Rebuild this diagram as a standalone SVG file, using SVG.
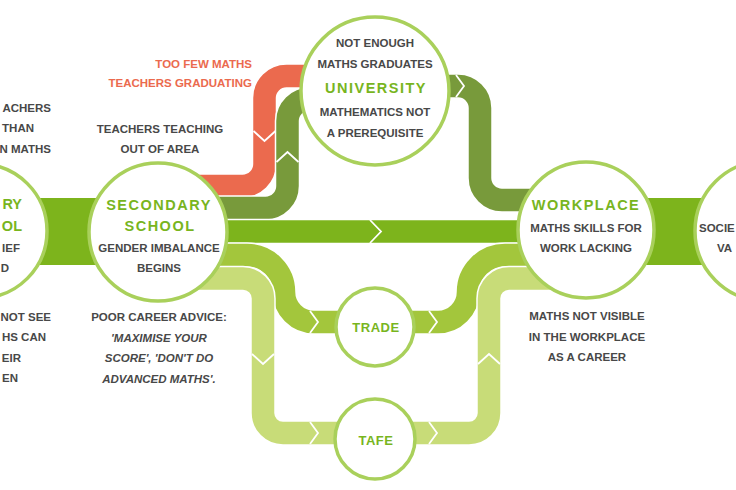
<svg xmlns="http://www.w3.org/2000/svg" xmlns:xlink="http://www.w3.org/1999/xlink" width="736" height="490" viewBox="0 0 736 490">
<style>
.w{fill:none;stroke:#fff;stroke-width:25.5}
.s{fill:none;stroke-width:22.5}
.red{stroke:#eb6a4e}
.olive{stroke:#789a3b}
.main{stroke:#7db41c}
.med{stroke:#a3c63c}
.light{stroke:#c8dc78}
.chev{fill:none;stroke:#fff;stroke-width:1.8;stroke-linejoin:miter}
.node{fill:#fff;stroke:#a9d05b;stroke-width:3.5}
.t{font-family:"Liberation Sans",Arial,sans-serif;font-weight:bold;font-size:11.5px;fill:#484848;text-anchor:middle}
.i{font-style:italic}
.ttl{font-family:"Liberation Sans",Arial,sans-serif;font-weight:bold;font-size:14.5px;fill:#78b51e;text-anchor:middle;letter-spacing:1.5px}
.sm{font-size:13px;letter-spacing:0.5px}
.rt{fill:#eb6a4e}
.band{fill:#7db41c}
.e{text-anchor:end}
.st{text-anchor:start}
</style>
<defs>
<path id="p-red" d="M190 186 H242.5 A22 22 0 0 0 264.5 164 V98 A22 22 0 0 1 286.5 76 H312"/>
<path id="p-olive1" d="M190 208 H265.5 A22 22 0 0 0 287.5 186 V121 A22 22 0 0 1 309.5 99 H322"/>
<path id="p-olive2" d="M438 86 H458 A22 22 0 0 1 480 108 V178 A22 22 0 0 0 502 200 H560"/>
<path id="p-main" d="M190 231.5 H560"/>
<path id="p-med1" d="M190 255 H247 A37 37 0 0 1 284 292 A30 30 0 0 0 314 322 H348"/>
<path id="p-med2" d="M404 322 H438 A30 30 0 0 0 468 292 A37 37 0 0 1 505 255 H560"/>
<path id="p-light1" d="M190 278.5 H243 A20 20 0 0 1 263 298.5 V413 A20 20 0 0 0 283 433 H348"/>
<path id="p-light2" d="M404 433 H469 A20 20 0 0 0 489 413 V298.5 A20 20 0 0 1 509 278.5 H560"/>
</defs>

<g id="bands">
<rect class="band" x="-10" y="198" width="110" height="67"/>
<rect class="band" x="640" y="198" width="70" height="67"/>
</g>

<g id="connectors">
<use xlink:href="#p-red" class="w"/><use xlink:href="#p-red" class="s red"/>
<use xlink:href="#p-olive1" class="w"/><use xlink:href="#p-olive1" class="s olive"/>
<use xlink:href="#p-olive2" class="w"/><use xlink:href="#p-olive2" class="s olive"/>
<use xlink:href="#p-main" class="w"/><use xlink:href="#p-main" class="s main"/>
<use xlink:href="#p-med1" class="w"/><use xlink:href="#p-med1" class="s med"/>
<use xlink:href="#p-med2" class="w"/><use xlink:href="#p-med2" class="s med"/>
<use xlink:href="#p-light1" class="w"/><use xlink:href="#p-light1" class="s light"/>
<use xlink:href="#p-light2" class="w"/><use xlink:href="#p-light2" class="s light"/>
<polyline class="chev" points="253.5,131 264.5,141 275.5,131"/>
<polyline class="chev" points="276.5,162 287.5,152 298.5,162"/>
<polyline class="chev" points="456,75 464,86 456,97"/>
<polyline class="chev" points="370,220 381,231.5 370,243"/>
<polyline class="chev" points="310,311 318,322 310,333"/>
<polyline class="chev" points="429,311 437,322 429,333"/>
<polyline class="chev" points="310,422 318,433 310,444"/>
<polyline class="chev" points="429,422 437,433 429,444"/>
<polyline class="chev" points="252,354 263,364 274,354"/>
<polyline class="chev" points="478,364 489,354 500,364"/>
</g>

<g id="node-primary">
<circle class="node" cx="-20" cy="231" r="67"/>
<text class="ttl e" x="22" y="209" style="letter-spacing:0">RY</text>
<text class="ttl e" x="22" y="231" style="letter-spacing:0">OL</text>
<text class="t e" x="20" y="252">IEF</text>
<text class="t e" x="9" y="272">D</text>
</g>

<g id="node-secondary">
<circle class="node" cx="158" cy="232" r="69"/>
<text class="ttl" x="159" y="210">SECONDARY</text>
<text class="ttl" x="160" y="231">SCHOOL</text>
<text class="t" x="159" y="252">GENDER IMBALANCE</text>
<text class="t" x="159" y="272">BEGINS</text>
</g>

<g id="node-university">
<circle class="node" cx="375" cy="91" r="74"/>
<text class="t" x="375" y="47">NOT ENOUGH</text>
<text class="t" x="375" y="68">MATHS GRADUATES</text>
<text class="ttl" x="376" y="93">UNIVERSITY</text>
<text class="t" x="375" y="116">MATHEMATICS NOT</text>
<text class="t" x="375" y="137">A PREREQUISITE</text>
</g>

<g id="node-workplace">
<circle class="node" cx="586" cy="230" r="68"/>
<text class="ttl" x="586" y="210">WORKPLACE</text>
<text class="t" x="586" y="232">MATHS SKILLS FOR</text>
<text class="t" x="586" y="252">WORK LACKING</text>
</g>

<g id="node-society">
<circle class="node" cx="765" cy="231" r="70"/>
<text class="t st" x="699" y="232">SOCIE</text>
<text class="t st" x="717" y="252">VA</text>
</g>

<g id="node-trade">
<circle class="node" cx="375" cy="327" r="39"/>
<text class="ttl sm" x="376" y="332">TRADE</text>
</g>

<g id="node-tafe">
<circle class="node" cx="375" cy="439" r="40"/>
<text class="ttl sm" x="376" y="445">TAFE</text>
</g>

<g id="annotations">
<text class="t e" x="51" y="112">ACHERS</text>
<text class="t e" x="34" y="132">THAN</text>
<text class="t e" x="51" y="153">N MATHS</text>
<text class="t e" x="51" y="321">NOT SEE</text>
<text class="t e" x="46" y="341">HS CAN</text>
<text class="t e" x="21" y="362">EIR</text>
<text class="t e" x="18" y="382">EN</text>
<text class="t rt e" x="252" y="68">TOO FEW MATHS</text>
<text class="t rt e" x="252" y="87">TEACHERS GRADUATING</text>
<text class="t" x="160" y="133">TEACHERS TEACHING</text>
<text class="t" x="160" y="153">OUT OF AREA</text>
<text class="t" x="159" y="321">POOR CAREER ADVICE:</text>
<text class="t i" x="159" y="342">'MAXIMISE YOUR</text>
<text class="t i" x="159" y="362">SCORE', 'DON'T DO</text>
<text class="t i" x="159" y="383">ADVANCED MATHS'.</text>
<text class="t" x="587" y="320">MATHS NOT VISIBLE</text>
<text class="t" x="587" y="341">IN THE WORKPLACE</text>
<text class="t" x="587" y="361">AS A CAREER</text>
</g>
</svg>
